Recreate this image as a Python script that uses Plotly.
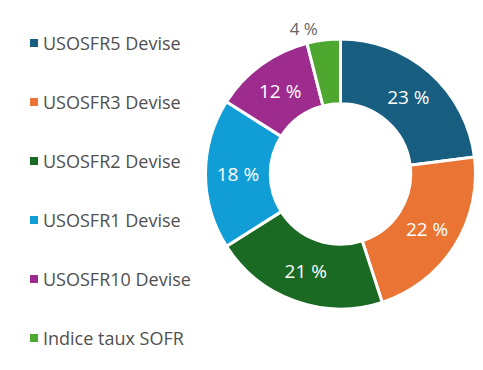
import plotly.graph_objects as go

labels = ["USOSFR5 Devise", "USOSFR3 Devise", "USOSFR2 Devise",
          "USOSFR1 Devise", "USOSFR10 Devise", "Indice taux SOFR"]
values = [23, 22, 21, 18, 12, 4]
colors = ["#175E80", "#EA7434", "#1B6A23", "#119ED6", "#9D2C8E", "#4EA72E"]
text_positions = ["inside", "inside", "inside", "inside", "inside", "outside"]

W, H = 483, 370
OFF = 8  # page body margin: figure starts 8px right/down of the window corner


def px_x(sx):
    return (sx - OFF) / W


def px_y(sy):
    return 1 - (sy - OFF) / H


cx, cy, R = 340.5, 174, 135
fig = go.Figure()

fig.add_trace(go.Pie(
    labels=labels, values=values, sort=False, direction="clockwise", rotation=0,
    hole=0.52,
    marker=dict(colors=colors, line=dict(color="white", width=3)),
    texttemplate="%{value} %", textposition=text_positions,
    insidetextorientation="horizontal",
    insidetextfont=dict(color="white", size=19, family="Open Sans"),
    outsidetextfont=dict(color="#666666", size=17, family="Open Sans"),
    domain=dict(x=[px_x(cx - R), px_x(cx + R)], y=[px_y(cy + R), px_y(cy - R)]),
    showlegend=False, hoverinfo="label+value",
))

# manual legend
fig.add_trace(go.Scatter(
    x=[0] * len(labels), y=list(range(len(labels))), mode="markers",
    marker=dict(symbol="square", size=8, color=colors, line=dict(width=0)),
    xaxis="x", yaxis="y", showlegend=False, hoverinfo="skip", cliponaxis=False,
))
for i, lab in enumerate(labels):
    fig.add_annotation(x=0, y=i, xref="x", yref="y", text=lab, showarrow=False,
                       xanchor="left", xshift=7, yshift=0,
                       font=dict(size=18, color="#505050", family="Open Sans"))

top_y, step = 43, 59
n = len(labels)
fig.update_layout(
    width=W, height=H, margin=dict(l=0, r=0, t=0, b=0),
    paper_bgcolor="white", plot_bgcolor="white",
    xaxis=dict(domain=[px_x(34), 0.4], range=[0, 1], visible=False, fixedrange=True),
    yaxis=dict(domain=[px_y(top_y + step * (n - 1)), px_y(top_y)], range=[n - 1, 0],
               visible=False, fixedrange=True),
)
fig.write_html("out.html")
